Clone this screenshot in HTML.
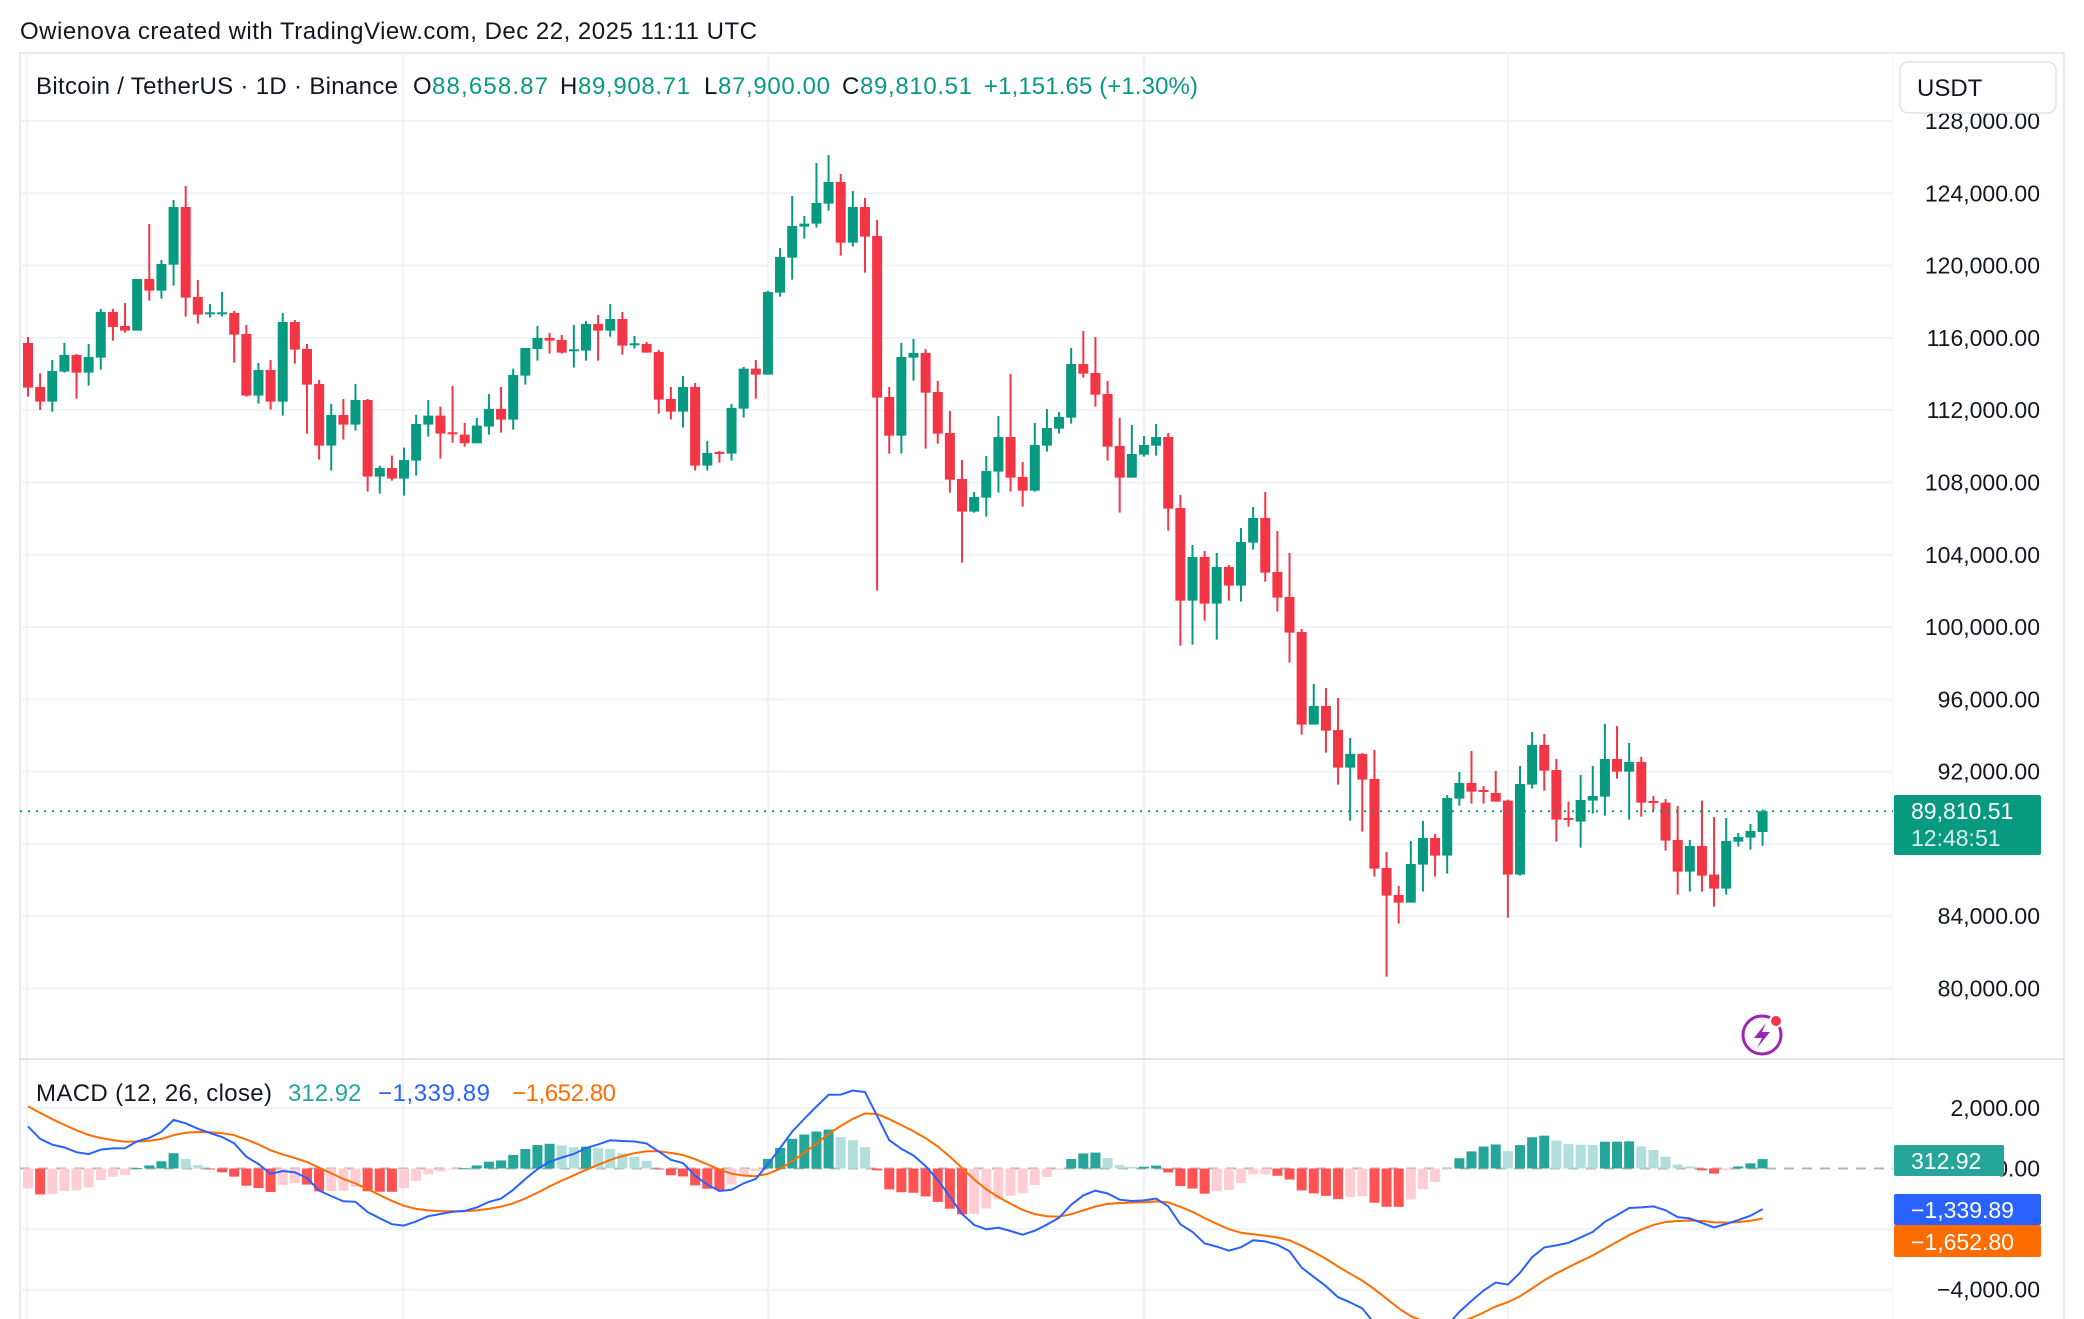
<!DOCTYPE html>
<html><head><meta charset="utf-8"><style>
html,body{margin:0;padding:0;background:#fff;width:2084px;height:1319px;overflow:hidden}
svg{display:block;font-family:"Liberation Sans",sans-serif}
</style></head><body>
<svg id="chart" width="2084" height="1319" viewBox="0 0 2084 1319" xmlns="http://www.w3.org/2000/svg">
<text x="20" y="39" font-size="24" fill="#131722" textLength="737">Owienova created with TradingView.com, Dec 22, 2025 11:11 UTC</text>
<rect x="20" y="53" width="2044" height="1280" fill="none" stroke="#e0e3eb" stroke-width="1.5"/>
<line x1="1893" y1="53" x2="1893" y2="1319" stroke="#f0f3fa" stroke-width="1"/>
<g id="grid"></g>
<g id="macdGrid"></g>
<line x1="20" y1="1059" x2="2064" y2="1059" stroke="#e0e3eb" stroke-width="2"/>
<defs>
<clipPath id="pClip"><rect x="20" y="53" width="1873" height="1006"/></clipPath>
<clipPath id="mClip"><rect x="20" y="1060" width="1873" height="259"/></clipPath>
</defs>
<g id="candles" clip-path="url(#pClip)"></g>
<g id="macdG" clip-path="url(#mClip)"></g>
<g id="axisLabels"></g>
<line id="lastLine" x1="20" x2="1893" y1="811" y2="811" stroke="#089981" stroke-width="2" stroke-dasharray="2 6"/>
<g font-size="24">
<text x="36" y="94" fill="#131722" textLength="362">Bitcoin / TetherUS · 1D · Binance</text>
<text x="413" y="94" fill="#131722">O</text><text x="432" y="94" fill="#089981" textLength="116">88,658.87</text>
<text x="560" y="94" fill="#131722">H</text><text x="578" y="94" fill="#089981" textLength="112">89,908.71</text>
<text x="704" y="94" fill="#131722">L</text><text x="718" y="94" fill="#089981" textLength="112">87,900.00</text>
<text x="842" y="94" fill="#131722">C</text><text x="860" y="94" fill="#089981" textLength="112">89,810.51</text>
<text x="984" y="94" fill="#089981" textLength="214">+1,151.65 (+1.30%)</text>
</g>
<g id="usdtBtn">
<rect x="1900" y="62" width="156" height="51" rx="8" fill="#fff" stroke="#e0e3eb" stroke-width="1.5"/>
<text x="1917" y="96" font-size="24" fill="#131722">USDT</text>
</g>
<g id="lpLabel">
<rect id="lpBox" x="1894" y="795" width="147" height="60" rx="2" fill="#089981"/>
<text x="1911" y="819" font-size="23" fill="#fff">89,810.51</text>
<text x="1911" y="846" font-size="23" fill="#d8f0ea">12:48:51</text>
</g>
<g>
<circle cx="1762" cy="1035" r="19" fill="none" stroke="#9c27b0" stroke-width="3"/>
<path d="M1766 1023 L1754 1038 L1762 1038 L1757 1048 L1770 1032 L1762 1032 Z" fill="#9c27b0"/>
<circle cx="1776" cy="1021" r="6" fill="#f23645" stroke="#fff" stroke-width="2"/>
</g>
<g font-size="24">
<text x="36" y="1101" fill="#131722" textLength="236">MACD (12, 26, close)</text>
<text x="288" y="1101" fill="#26a69a">312.92</text>
<text x="378" y="1101" fill="#2962ff" textLength="112">−1,339.89</text>
<text x="512" y="1101" fill="#ff6d00" textLength="104">−1,652.80</text>
</g>
<g id="macdLabels" font-size="23">
<rect x="1894" y="1145" width="110" height="31" rx="2" fill="#26a69a"/><text x="1911" y="1169" fill="#fff">312.92</text>
<rect x="1894" y="1194" width="147" height="31" rx="2" fill="#2962ff"/><text x="1911" y="1218" fill="#fff">−1,339.89</text>
<rect x="1894" y="1225" width="147" height="32" rx="2" fill="#ff6d00"/><text x="1911" y="1250" fill="#fff">−1,652.80</text>
</g>
</svg>
<script>
const opens=[115720,113286,112474,114134,115056,114078,114908,117435,116660,116402,119260,118615,120053,123243,118264,117398,117379,117379,116218,112806,114226,112474,116881,115388,113452,110040,111737,111202,112566,108325,108805,108215,109210,111202,111700,110778,110649,110169,111091,112069,111478,113913,115388,115996,115886,115332,115296,116771,116402,117047,115664,115664,115222,112622,111921,113286,108934,109690,109598,112087,114300,113968,118504,120440,122155,122321,123428,124626,121270,123243,121639,112730,110591,114906,115164,113007,110738,108194,106387,107161,108599,110517,108304,107548,110038,110978,111587,114556,114058,112896,110019,108267,109540,110038,110517,106589,101463,103879,101297,103326,102293,104672,106036,103049,101666,99730,94603,95634,94306,92222,92978,91595,86672,85178,84754,86856,88331,87354,90507,91374,90987,90821,90397,86303,91282,93476,92093,89438,89235,90397,90618,92702,92001,92536,90378,90286,88221,86469,87889,86303,85529,88129,88350,88659];
const highs=[116052,114042,114779,115720,115111,115664,117601,117601,117932,119260,122303,120311,123630,124405,119205,117877,118541,117490,116715,114613,114779,117379,116992,115664,113673,112345,112622,113452,112622,108934,109487,109929,111737,112566,112198,113341,111294,111571,112898,113286,114300,115443,116660,116273,116162,116715,116937,117269,117877,117435,116107,115775,115332,113286,113894,113507,110298,109745,112345,114392,114779,118596,120975,123852,122745,125677,126120,125069,124128,123741,122524,113283,115717,115939,115385,113615,111955,109245,107475,109466,111679,114002,109134,111292,112066,111900,115441,116381,116049,113615,111568,111181,110572,111236,110738,107309,104543,104211,104100,103436,105483,106645,107475,105317,104100,99896,96853,96629,96076,93863,93034,93200,87557,85676,88165,89272,88553,90710,91983,93144,91208,92038,90452,92314,94195,94085,92702,90341,91817,92314,94638,94527,93587,92812,90655,90489,90102,88221,90397,89493,89438,88608,89106,89909];
const lows=[112751,112013,111921,114078,112640,113359,114244,115849,116291,116402,118062,118172,118891,117176,116789,117121,117176,114632,112751,112364,112032,111700,114576,110704,109266,108657,110372,110870,107495,107385,108104,107274,108381,110538,109321,110206,109985,110169,110649,110759,110925,113415,114742,115130,115130,114355,114742,114742,116070,115074,115406,115185,111810,111478,111036,108657,108657,109100,109210,111589,112640,113968,118283,119223,121491,122100,123040,120551,121049,119610,102019,109595,109595,113634,109872,110148,107438,103565,106331,106110,107438,107493,106663,107493,109706,110702,111255,113799,112195,109208,106331,108267,109429,109485,105336,98974,99029,100357,99306,101463,101408,104284,102514,100855,98033,94050,94603,93052,91282,89290,88682,86192,80660,83592,84754,85363,86192,86358,90120,90231,90231,90341,83924,86248,91061,90950,88129,88958,87797,89678,89567,91614,89346,89512,89844,87631,85197,85363,85363,84533,85197,87852,87686,87900];
const closes=[113249,112474,114171,115056,114078,114945,117435,116605,116402,119260,118615,120090,123243,118227,117287,117416,117416,116181,112806,114226,112474,116881,115351,113415,110040,111737,111202,112566,108325,108805,108215,109247,111239,111700,110704,110704,110169,111147,112069,111478,113949,115443,115996,115849,115185,115369,116771,116402,117047,115572,115701,115185,112585,111921,113286,108934,109634,109634,112124,114300,113968,118541,120477,122192,122321,123464,124626,121270,123243,121602,112695,110591,114943,115164,112970,110702,108157,106387,107198,108636,110517,108267,107548,110075,111015,111624,114556,114021,112859,109982,108267,109577,110075,110517,106553,101463,103879,101297,103326,102293,104709,106036,103012,101629,99693,94603,95636,94269,92222,92978,91558,86635,85141,84754,86893,88331,87354,90544,91374,90895,90931,90341,86303,91319,93476,92056,89346,89383,90434,90655,92702,92001,92536,90286,90323,88184,86469,87889,86248,85529,88165,88387,88719,89811];
const priceTicks=[80000,84000,88000,92000,96000,100000,104000,108000,112000,116000,120000,124000,128000];
const priceTickLabels=["80,000.00","84,000.00","88,000.00","92,000.00","96,000.00","100,000.00","104,000.00","108,000.00","112,000.00","116,000.00","120,000.00","124,000.00","128,000.00"];
const macdTicks=[2000,0,-2000,-4000];
const macdTickLabels=["2,000.00","0.00","−2,000.00","−4,000.00"];
const vGridX=[27,403,768,1144,1508];
const emaSeeds=[116300,114910,2050];

const NS="http://www.w3.org/2000/svg";
const yP=p=>193.3+(124000-p)/55.33;
const xI=i=>28+i*12.13;
const yM=v=>1168.5-v*0.0303;
function mk(tag,attrs,parent){const e=document.createElementNS(NS,tag);for(const k in attrs)e.setAttribute(k,attrs[k]);parent.appendChild(e);return e;}

const grid=document.getElementById('grid');
priceTicks.forEach(t=>{
  const l=mk('line',{x1:20,x2:1893,y1:yP(t),y2:yP(t),stroke:'#f0f3fa','stroke-width':2},grid);
  
  
});
vGridX.forEach(x=>{
  const l=mk('line',{x1:x,x2:x,y1:53,y2:1319,stroke:'#f0f3fa','stroke-width':2},grid);
  
  
});
const mg=document.getElementById('macdGrid');
macdTicks.forEach(t=>{
  const l=mk('line',{x1:20,x2:1893,y1:yM(t),y2:yM(t),stroke:t===0?'#b2b5be':'#f0f3fa','stroke-width':2,'stroke-dasharray':t===0?'10 8':'none'},mg);
  
  
});

const al=document.getElementById('axisLabels');
priceTicks.forEach((t,i)=>{
  const tx=mk('text',{x:2040,y:yP(t)+8,'text-anchor':'end','font-size':23,fill:'#131722'},al);
  tx.textContent=priceTickLabels[i];
  
  
});
macdTicks.forEach((t,i)=>{
  const tx=mk('text',{x:2040,y:yM(t)+8,'text-anchor':'end','font-size':23,fill:'#131722'},al);
  tx.textContent=macdTickLabels[i];
  
  
});

const cg=document.getElementById('candles');
for(let i=0;i<closes.length;i++){
  const up=closes[i]>=opens[i];const col=up?'#089981':'#f23645';const x=xI(i);
  const w=mk('line',{x1:x,x2:x,y1:yP(highs[i]),y2:yP(lows[i]),stroke:col,'stroke-width':2},cg);
  
  
  const top=yP(Math.max(opens[i],closes[i])),bot=yP(Math.min(opens[i],closes[i]));
  const b=mk('rect',{x:x-5,y:top,width:10,height:Math.max(2,bot-top),fill:col},cg);
  
  
}
const ll=document.getElementById('lastLine');
ll.setAttribute('y1',yP(closes[closes.length-1]));
ll.setAttribute('y2',yP(closes[closes.length-1]));

let e12=emaSeeds[0],e26=emaSeeds[1],sig=emaSeeds[2];
const macd=[],signal=[],hist=[];
for(let i=0;i<closes.length;i++){
  if(i>0){e12+=(closes[i]-e12)*2/13;e26+=(closes[i]-e26)*2/27;}
  const m=e12-e26;
  if(i>0)sig+=(m-sig)*2/10;
  macd.push(m);signal.push(sig);hist.push(m-sig);
}
const mgp=document.getElementById('macdG');
for(let i=0;i<hist.length;i++){
  const h=hist[i],p=i>0?hist[i-1]:h;
  const col=h>=0?(h>=p?'#26a69a':'#b2dfdb'):(h<p?'#ff5252':'#ffcdd2');
  const y0=yM(0),y1=yM(h);
  const r=mk('rect',{x:xI(i)-5,y:Math.min(y0,y1),width:10,height:Math.max(1,Math.abs(y1-y0)),fill:col},mgp);
  
  
}
const pts=a=>a.map((v,i)=>xI(i).toFixed(1)+','+yM(v).toFixed(1)).join(' ');
const sl=mk('polyline',{points:pts(signal),fill:'none',stroke:'#ff6d00','stroke-width':2},mgp);


const ml=mk('polyline',{points:pts(macd),fill:'none',stroke:'#2962ff','stroke-width':2},mgp);


const svg=document.getElementById('chart');
svg.appendChild(document.getElementById('macdLabels'));
svg.appendChild(document.getElementById('lpLabel'));
svg.appendChild(document.getElementById('usdtBtn'));
</script>
</body></html>
